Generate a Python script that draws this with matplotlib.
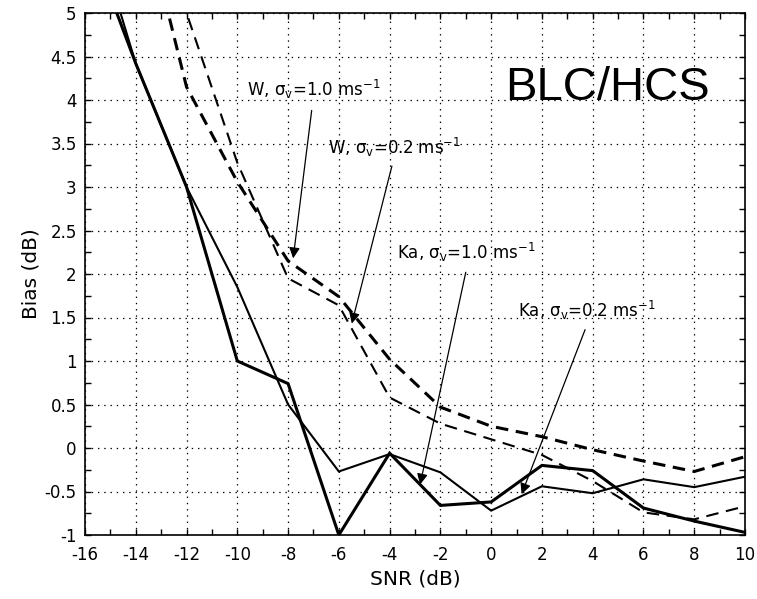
import numpy as np
import matplotlib
matplotlib.use("Agg")
import matplotlib.pyplot as plt
from matplotlib.ticker import MultipleLocator

plt.rcParams['font.family'] = ['DejaVu Sans']
plt.rcParams['mathtext.default'] = 'regular'
plt.rcParams['axes.unicode_minus'] = False
plt.rcParams['lines.scale_dashes'] = False

# SNR grid (dB) and bias curves (dB)
snr = [-16, -14, -12, -10, -8, -6, -4, -2, 0, 2, 4, 6, 8, 10]
bias_ka_10 = [5.97, 4.42, 3.0, 1.0, 0.74, -1.0, -0.06, -0.66, -0.62, -0.2, -0.26, -0.69, -0.84, -0.97]
bias_ka_02 = [6.35, 4.42, 3.0, 1.85, 0.5, -0.27, -0.07, -0.28, -0.72, -0.44, -0.52, -0.36, -0.45, -0.33]
bias_w_10 = [np.nan, 6.5, 4.15, 3.06, 2.15, 1.74, 1.02, 0.47, 0.25, 0.13, -0.02, -0.15, -0.27, -0.1]
bias_w_02 = [np.nan, 7.0, 5.0, 3.28, 1.95, 1.64, 0.58, 0.28, 0.1, -0.08, -0.38, -0.74, -0.82, -0.67]

x_ticks = list(range(-16, 11, 2))
y_ticks = [-1, -0.5, 0, 0.5, 1, 1.5, 2, 2.5, 3, 3.5, 4, 4.5, 5]

# annotation labels: text, text anchor (baseline-left), arrow tail, arrow head
labels = [r'W, $\sigma_v$=1.0 ms$^{-1}$', r'W, $\sigma_v$=0.2 ms$^{-1}$',
          r'Ka, $\sigma_v$=1.0 ms$^{-1}$', r'Ka, $\sigma_v$=0.2 ms$^{-1}$']
label_xy = [(-9.63, 4.05), (-6.41, 3.38), (-3.71, 2.17), (1.04, 1.51)]
arrow_tail = [(-7.07, 3.88), (-3.91, 3.24), (-1.0, 2.02), (3.7, 1.36)]
arrow_head = [(-7.8, 2.18), (-5.49, 1.43), (-2.8, -0.42), (1.2, -0.53)]

fig = plt.figure(figsize=(7.57, 5.99), dpi=100)
ax = fig.add_axes([85 / 757, 1 - 535 / 599, 660 / 757, 522 / 599])

ax.plot(snr, bias_ka_10, color='k', lw=2.2, solid_joinstyle='miter')
ax.plot(snr, bias_ka_02, color='k', lw=1.5, solid_joinstyle='miter')
ax.plot(snr, bias_w_10, color='k', lw=2.2, dashes=(9, 5.5))
ax.plot(snr, bias_w_02, color='k', lw=1.5, dashes=(9, 5.5))

ax.set_xlim(-16, 10)
ax.set_ylim(-1, 5)
ax.set_xticks(x_ticks)
ax.set_yticks(y_ticks)
ax.set_yticklabels([f'{v:g}' for v in y_ticks])
ax.xaxis.set_minor_locator(MultipleLocator(1))
ax.yaxis.set_minor_locator(MultipleLocator(0.25))
ax.tick_params(which='both', direction='in', top=True, right=True,
               length=4, width=1, labelsize=12)
ax.tick_params(axis='x', pad=8)
ax.tick_params(axis='y', pad=6)
ax.grid(True, which='major', color='k', linestyle=(0, (1, 3.5)), linewidth=0.9)
for s in ax.spines.values():
    s.set_linewidth(1.2)

ax.set_xlabel('SNR (dB)', fontsize=14.5, labelpad=4)
ax.set_ylabel('Bias (dB)', fontsize=14.5, labelpad=3)

for txt, xy, tail, head in zip(labels, label_xy, arrow_tail, arrow_head):
    ax.text(xy[0], xy[1], txt, fontsize=12, ha='left', va='baseline')
    ax.annotate('', xy=head, xytext=tail,
                arrowprops=dict(arrowstyle='-|>', color='k', lw=0.9,
                                mutation_scale=16, shrinkA=0, shrinkB=0))

ax.text(0.55, 4.0, 'BLC/HCS', fontsize=34, ha='left', va='baseline',
        family='Liberation Sans')

fig.savefig('out.png', dpi=100)
